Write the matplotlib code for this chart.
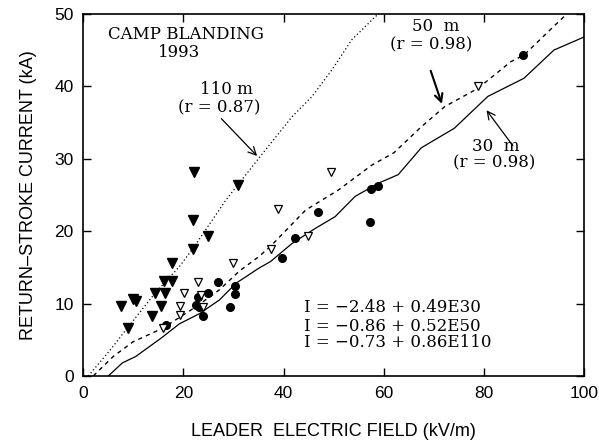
import matplotlib
matplotlib.use('Agg')
import matplotlib.pyplot as plt

# data
# filled circles: 30 m
e30 = [16.5, 22.5, 23.2, 22.9, 23.9, 25.0, 27.0, 29.3, 30.4, 30.4,
       39.7, 42.3, 46.8, 57.3, 57.5, 58.8, 87.8]
i30 = [7.0, 9.8, 9.5, 10.9, 8.3, 11.4, 13.0, 9.5, 11.3, 12.4,
       16.3, 19.0, 22.6, 21.2, 25.8, 26.2, 44.3]

# open triangles: 50 m
e50 = [15.9, 19.3, 19.3, 20.1, 22.9, 23.5, 23.9, 30.0, 37.4, 38.9,
       44.9, 49.5, 78.8]
i50 = [6.6, 8.4, 9.7, 11.4, 13.0, 11.2, 9.5, 15.6, 17.5, 23.0,
       19.3, 28.2, 40.0]

# filled triangles: 110 m
e110 = [9.0, 7.6, 10.0, 10.6, 13.8, 14.4, 16.4, 15.5, 16.1, 17.8,
        17.8, 22.0, 22.0, 24.9, 22.2, 31.0]
i110 = [6.6, 9.6, 10.6, 10.3, 8.3, 11.4, 11.4, 9.7, 13.1, 13.1,
        15.6, 17.6, 21.6, 19.3, 28.2, 26.4]

# regression lines as traced on the figure
fit30_x = [5.0, 7.8, 10.5, 15.5, 19.2, 23.2, 27.2, 30.5, 35.1, 37.4, 41.7,
           46.4, 50.3, 54.3, 58.9, 62.9, 67.5, 74.1, 80.8, 88.0, 94.0, 100]
fit30_y = [0, 1.8, 2.7, 5.2, 7.2, 8.6, 10.5, 12.8, 14.9, 15.8, 18.3,
           20.4, 22.0, 24.8, 26.6, 27.8, 31.5, 34.2, 38.6, 41.1, 45.0, 46.8]
fit50_x = [2.0, 6.0, 9.9, 15.9, 22.6, 27.2, 31.2, 35.1, 37.4, 44.4, 51.0,
           57.6, 62.0, 67.5, 72.2, 78.8, 85.4, 88.0, 94.0, 96.6]
fit50_y = [0, 2.7, 4.7, 6.6, 9.6, 11.9, 14.5, 16.5, 17.9, 22.9, 25.7,
           29.1, 30.8, 34.4, 37.2, 39.7, 43.4, 44.3, 48.3, 50]
fit110_x = [1.0, 5.4, 9.0, 14.3, 19.2, 22.2, 28.5, 35.1, 41.7, 45.7,
            49.7, 53.6, 58.3, 59.0]
fit110_y = [0, 3.6, 6.8, 11.4, 15.1, 17.9, 24.3, 30.1, 35.8, 38.6,
            42.3, 46.4, 49.6, 50]

equations = ['I = \u22122.48 + 0.49E30',
             'I = \u22120.86 + 0.52E50',
             'I = \u22120.73 + 0.86E110']

sans = 'Liberation Sans'
serif = 'DejaVu Serif'

fig = plt.figure(figsize=(5.99, 4.46), dpi=100)
ax = fig.add_axes([0.139, 0.157, 0.836, 0.812])

ax.plot(fit30_x, fit30_y, color='black', lw=0.9)
ax.plot(fit50_x, fit50_y, color='black', lw=1.0, linestyle=(0, (3, 3)))
ax.plot(fit110_x, fit110_y, color='black', lw=0.9, linestyle=(0, (1, 2)))

ax.plot(e30, i30, 'o', color='black', markersize=5.5, linestyle='none')
ax.plot(e50, i50, 'v', markerfacecolor='white', markeredgecolor='black',
        markeredgewidth=0.9, markersize=5.5, linestyle='none')
ax.plot(e110, i110, 'v', color='black', markersize=6.5, linestyle='none')

ax.set_xlim(0, 100)
ax.set_ylim(0, 50)
ax.set_xticks([0, 20, 40, 60, 80, 100])
ax.set_yticks([0, 10, 20, 30, 40, 50])
ax.tick_params(direction='in', length=6, width=1, top=True, right=True,
               labelsize=12.5, pad=7)
for lab in ax.get_xticklabels() + ax.get_yticklabels():
    lab.set_family(sans)
for s in ax.spines.values():
    s.set_linewidth(1.2)

ax.set_xlabel('LEADER  ELECTRIC FIELD (kV/m)', family=sans, fontsize=13,
              labelpad=16)
ax.set_ylabel('RETURN\u2013STROKE CURRENT (kA)', family=sans, fontsize=13,
              labelpad=12)

ax.text(20.6, 47.1, 'CAMP BLANDING', family=serif, fontsize=12,
        ha='center', va='center')
ax.text(19.2, 44.6, '1993', family=serif, fontsize=12,
        ha='center', va='center')

ax.text(28.6, 39.6, '110 m', family=serif, fontsize=12, ha='center', va='center')
ax.text(27.2, 37.0, '(r = 0.87)', family=serif, fontsize=12, ha='center', va='center')
ax.annotate('', xy=(35.1, 30.1), xytext=(27.2, 35.8),
            arrowprops=dict(arrowstyle='->', color='black', lw=0.9,
                            mutation_scale=14))

ax.text(70.4, 48.2, '50  m', family=serif, fontsize=12, ha='center', va='center')
ax.text(69.4, 45.7, '(r = 0.98)', family=serif, fontsize=12, ha='center', va='center')
ax.annotate('', xy=(71.8, 37.2), xytext=(69.2, 42.5),
            arrowprops=dict(arrowstyle='->', color='black', lw=1.5,
                            mutation_scale=14))

ax.text(82.3, 31.7, '30  m', family=serif, fontsize=12, ha='center', va='center')
ax.text(82.1, 29.4, '(r = 0.98)', family=serif, fontsize=12, ha='center', va='center')
ax.annotate('', xy=(80.2, 37.0), xytext=(86.1, 31.5),
            arrowprops=dict(arrowstyle='->', color='black', lw=0.9,
                            mutation_scale=14))

for txt, yy in zip(equations, [9.5, 6.9, 4.6]):
    ax.text(44.0, yy, txt, family=serif, fontsize=12, ha='left', va='center')

fig.savefig('out.png', dpi=100)
